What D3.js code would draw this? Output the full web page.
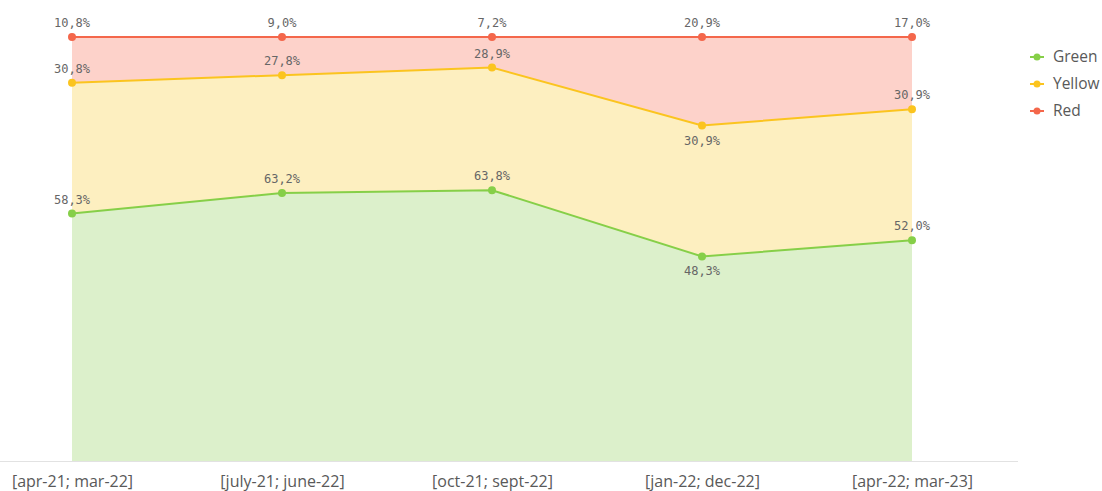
<!DOCTYPE html>
<html><head><meta charset="utf-8">
<script src="https://cdn.jsdelivr.net/npm/d3@7"></script>
<style>body{margin:0;background:#fff;}svg{display:block;}</style>
</head><body>
<svg id="c" width="1102" height="491"></svg>
<script>
const categories = ["[apr-21; mar-22]","[july-21; june-22]","[oct-21; sept-22]","[jan-22; dec-22]","[apr-22; mar-23]"];
const green = [58.3, 63.2, 63.8, 48.3, 52.0];
const yellow = [30.8, 27.8, 28.9, 30.9, 30.9];
const red = [10.8, 9.0, 7.2, 20.9, 17.0];
const seriesNames = ["Green","Yellow","Red"];
const strokeColors = ["#86cf48","#fbc41f","#f4674b"];
const fillColors = ["#dcf0cb","#fdefc0","#fdd2ca"];

const svg = d3.select("#c");
const x = d3.scalePoint().domain(categories).range([72, 912]);
const y = d3.scaleLinear().domain([0, 100]).range([461, 37]);

const rows = categories.map((c,i)=>({cat:c, Green:green[i], Yellow:yellow[i], Red:red[i]}));
const stack = d3.stack().keys(seriesNames).offset(d3.stackOffsetExpand);
const layers = stack(rows);

const area = d3.area().x(d=>x(d.data.cat)).y0(d=>y(d[0]*100)).y1(d=>y(d[1]*100));
const line = d3.line().x(d=>x(d.data.cat)).y(d=>y(d[1]*100));

layers.forEach((L,k)=>{
  svg.append("path").datum(L).attr("d",area).attr("fill",fillColors[k]);
});
// axis
const ax = svg.append("g").attr("transform","translate(0,461)").call(d3.axisBottom(x).tickSize(0).tickPadding(15));
ax.select(".domain").remove();
svg.append("line").attr("x1",0).attr("x2",1018).attr("y1",461.5).attr("y2",461.5).attr("stroke","#e2e2e2");
ax.selectAll("text").attr("font-family","'Open Sans', sans-serif").attr("font-size",16).attr("fill","#595959");

const fmt = v => v.toFixed(1).replace(".", ",") + "%";
const vals = [green, yellow, red];
layers.forEach((L,k)=>{
  svg.append("path").datum(L).attr("d",line).attr("fill","none").attr("stroke",strokeColors[k]).attr("stroke-width",2);
  svg.selectAll(null).data(L).enter().append("circle")
    .attr("cx",d=>x(d.data.cat)).attr("cy",d=>y(d[1]*100)).attr("r",4).attr("fill",strokeColors[k]);
  svg.selectAll(null).data(L).enter().append("text")
    .attr("x",d=>x(d.data.cat))
    .attr("y",(d,i)=>{
      const below = i>0 && d[1] < L[i-1][1] && k<2;
      return y(d[1]*100) + (below ? 19 : -10);
    })
    .attr("text-anchor","middle")
    .attr("font-family","'DejaVu Sans Mono', monospace").attr("font-size",12).attr("fill","#666")
    .text((d,i)=>fmt(vals[k][i]));
});

// legend
const lg = svg.append("g");
seriesNames.forEach((n,k)=>{
  const yy = 57 + k*27;
  lg.append("line").attr("x1",1030).attr("x2",1044).attr("y1",yy).attr("y2",yy).attr("stroke",strokeColors[k]).attr("stroke-width",2);
  lg.append("circle").attr("cx",1037).attr("cy",yy).attr("r",3.5).attr("fill",strokeColors[k]);
  lg.append("text").attr("x",1053).attr("y",yy+5).attr("font-family","'Open Sans', sans-serif").attr("font-size",15.5).attr("fill","#595959").text(n);
});
</script>
</body></html>
